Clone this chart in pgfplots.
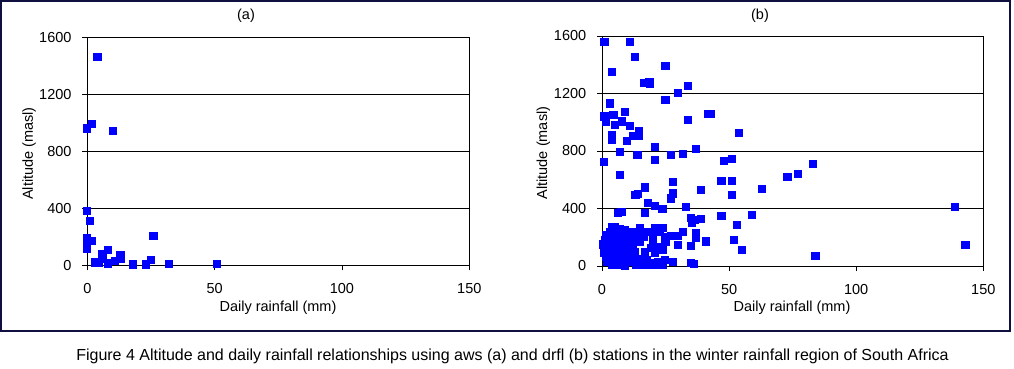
\documentclass[border=0pt]{standalone}
\usepackage{fontspec}
\setmainfont{Liberation Sans}
\usepackage{pgfplots}
\pgfplotsset{compat=1.18}
\definecolor{framec}{RGB}{16,16,64}
\pgfplotsset{
 myaxis/.style={
  scale only axis, anchor=south west,
  xmin=0,xmax=150,ymin=0,ymax=1600,
  xtick={0,50,100,150}, ytick={0,400,800,1200,1600},
  ymajorgrids, grid style={black, line width=0.8pt},
  axis line style={black, line width=0.8pt},
  tick style={black, line width=0.8pt},
  tick align=outside, major tick length=5pt,
  xtick pos=bottom, ytick pos=left,
  clip=false,
  tick label style={font=\fontsize{14.5}{16}\selectfont},
  /pgf/number format/assume math mode=true,
  /pgf/number format/1000 sep={},
  scaled ticks=false,
  yticklabel style={anchor=east, inner sep=0pt, xshift=-10.6pt},
  xticklabel style={anchor=north, inner sep=0pt, yshift=-13pt},
 },
 mypts/.style={only marks, mark=square*, mark size=3.6pt, mark options={fill=blue, draw=blue, line width=0pt}},
}
\begin{document}
\begin{tikzpicture}
\fill[white] (0pt,0pt) rectangle (1014pt,368pt);
\draw[framec, line width=1.5pt] (0.75pt,367.25pt) rectangle (1010pt,37pt);
% panel (a)
\begin{axis}[myaxis, at={(87.3pt,102.7pt)}, width=382pt, height=228pt]
\addplot[mypts] coordinates {
(4,1460) (0,960) (2,990) (10,945) (0,383) (1,311) (0,190) (0,150) (0,112)
(2,172) (26,208) (3,20) (4.5,20) (6,80) (6,45) (8,110) (8,12) (11,33)
(13,75) (13,45) (18,5) (23,5) (25,38) (32,8) (51,8)
};
\end{axis}
% panel (b)
\begin{axis}[myaxis, at={(602pt,102pt)}, width=381.3pt, height=230pt]
\addplot[mypts] coordinates {
(1,1560) (11,1560) (13,1455) (4,1350) (25,1390) (16.5,1275) (18.7,1280) (19,1270)
(33.8,1250) (30,1205) (25,1155) (3,1130) (8.9,1072) (33.8,1018) (41.8,1057) (43,1057) (54,925)
(1,1040) (1.5,1000) (4.5,1050) (5,982) (7.8,1005) (11,975) (3.8,911) (3.8,880) (9.8,872)
(12.3,903) (14.7,940) (14.7,903)
(21,828) (7,795) (14,772) (27,772) (32,781) (37,816) (0.9,722) (21,737) (48,730) (51,747)
(7,631) (83,712) (73,621) (77,642) (63,538) (47,591) (51,591) (51,496) (27.8,585) (27.8,505)
(27.2,470) (38.8,529) (16.9,546) (13.2,494) (14.2,503) (18.2,441) (21,420) (23.8,398) (33,410)
(6.2,368) (7.7,378) (16.9,366) (47,348) (59,355) (139,410) (143,146) (84,70) (55,111) (53,285)
(52,181) (41,170) (39,327) (35,335) (35.5,300) (36.5,320) (37,227) (37,195) (35,137) (35,20)
(36.3,14) (28,26) (30,146) (30,209) (27,209) (32,234) (24,262) (21,262) (22,234) (25,169)
(22,134) (20,162) (24,30) (21,19) (19,23)
(3.8,274) (5.1,274) (3.1,239) (1.8,216) (1.2,181) (2.5,169) (4.4,204) (6.4,239) (7.1,181)
(8.4,158) (11,239) (12.3,239) (14.9,262) (15.6,239) (16.3,204) (14.9,169) (11.7,181) (9.7,146)
(12.3,134) (18.9,239) (20.2,181) (22.8,250) (22.2,134) (24.8,204) (19.5,123) (20.8,88) (24.1,111)
(1.8,65) (3.1,42) (5.1,53) (5.8,7) (7.1,42) (9.1,19) (10.4,53) (12.3,30) (13.6,5) (16.3,7)
(17.6,42) (18.2,5) (20.8,5) (22.2,30) (24.8,42) (24.1,10)
(0.5,150) (2,120) (4,100) (6,130) (8,90) (10,110) (3,80) (5,20) (8,60) (12,70) (15,50) (17,100)
(2,30) (4,5) (9,3) (14,20) (1,90) (6,100)
(4,230) (6,200) (9,215) (10,180) (13,210) (7,260) (9,250) (5,160) (11,150) (13,100) (3,140) (7,120)
};
\end{axis}
% titles and labels
\node[font=\fontsize{14.5}{16}\selectfont] at (246pt,352pt) {(a)};
\node[font=\fontsize{14.5}{16}\selectfont] at (760pt,352pt) {(b)};
\node[font=\fontsize{14.5}{16}\selectfont, rotate=90] at (29pt,214.5pt) {Altitude (masl)};
\node[font=\fontsize{14.5}{16}\selectfont, rotate=90] at (543.3pt,215pt) {Altitude (masl)};
\node[font=\fontsize{14.5}{16}\selectfont] at (278pt,60pt) {Daily rainfall (mm)};
\node[font=\fontsize{14.5}{16}\selectfont] at (792pt,60pt) {Daily rainfall (mm)};
\node[font=\fontsize{16}{18}\selectfont] at (512.5pt,12pt) {Figure 4 Altitude and daily rainfall relationships using aws (a) and drfl (b) stations in the winter rainfall region of South Africa};
\end{tikzpicture}
\end{document}
